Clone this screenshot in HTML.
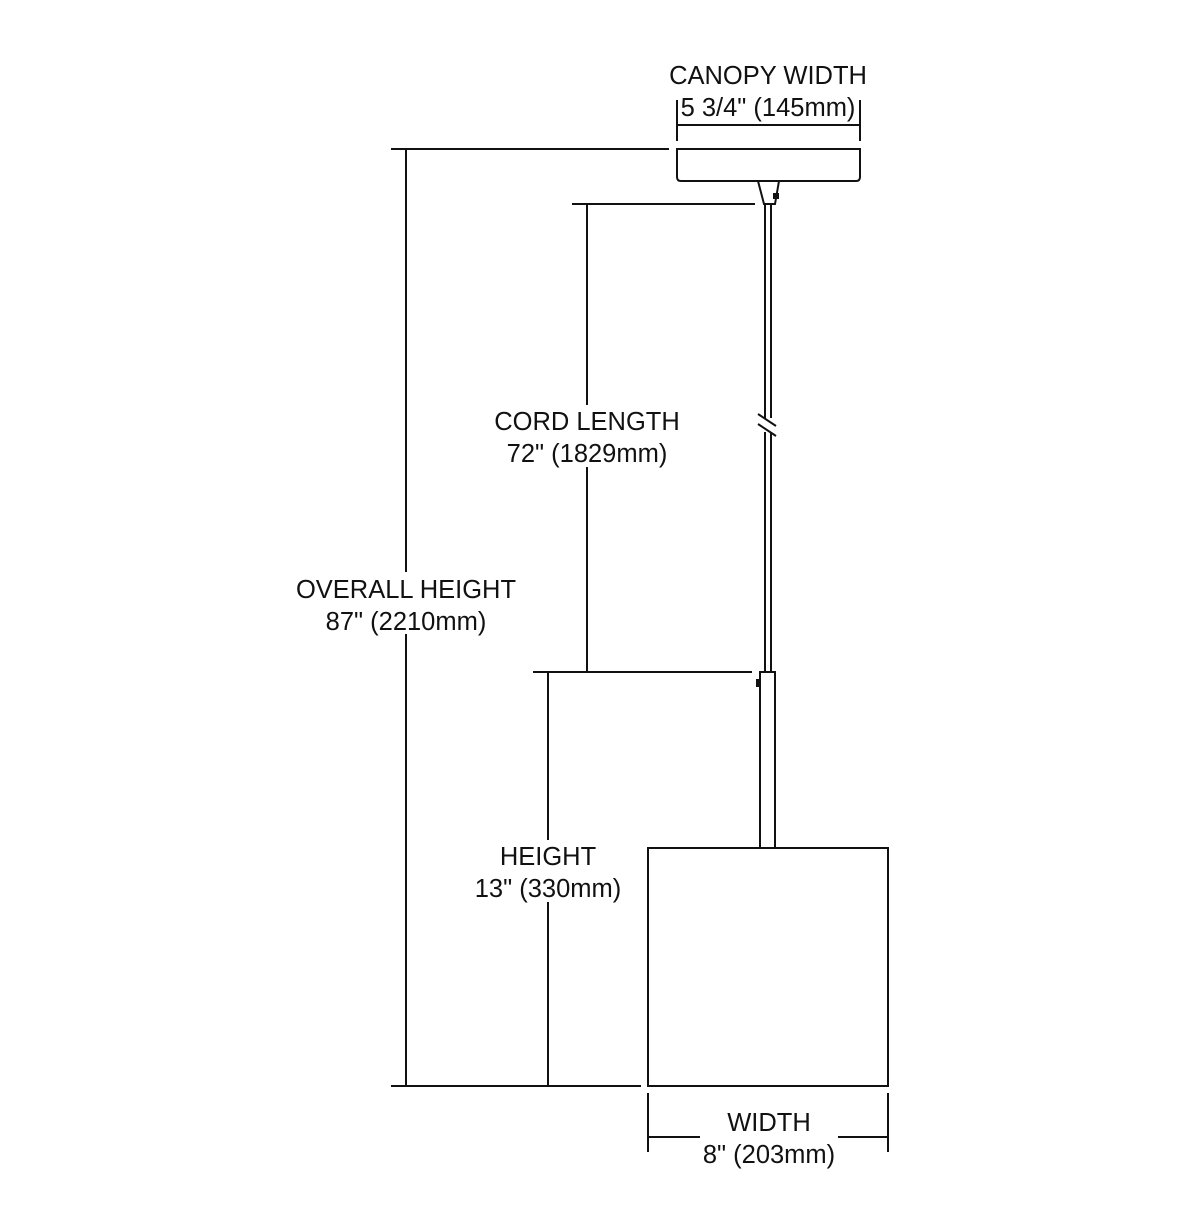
<!DOCTYPE html>
<html><head><style>html,body{margin:0;padding:0;background:#fff}</style></head>
<body>
<svg width="1200" height="1200" viewBox="0 0 1200 1200" xmlns="http://www.w3.org/2000/svg">
<g stroke="#111" stroke-width="2" fill="none">
<line x1="391" y1="149" x2="669" y2="149"/>
<line x1="406" y1="149" x2="406" y2="1086"/>
<line x1="391" y1="1086" x2="641" y2="1086"/>
<line x1="572" y1="204" x2="755" y2="204"/>
<line x1="587" y1="204" x2="587" y2="672"/>
<line x1="533" y1="672" x2="752" y2="672"/>
<line x1="548" y1="672" x2="548" y2="1086"/>
<line x1="677" y1="100" x2="677" y2="141"/>
<line x1="860" y1="100" x2="860" y2="141"/>
<line x1="677" y1="125" x2="860" y2="125"/>
<path d="M677 149 H860 V177 Q860 181 856 181 H681 Q677 181 677 177 Z"/>
<path d="M758 181 L764 204 H775 L779 181"/>
<line x1="765" y1="204" x2="765" y2="672"/>
<line x1="771" y1="204" x2="771" y2="672"/>
<rect x="760" y="672" width="15" height="176"/>
<rect x="648" y="848" width="240" height="238"/>
<line x1="648" y1="1093" x2="648" y2="1152"/>
<line x1="888" y1="1093" x2="888" y2="1152"/>
<line x1="648" y1="1137" x2="700" y2="1137"/>
<line x1="838" y1="1137" x2="888" y2="1137"/>
</g>
<rect x="773" y="193" width="6" height="6" fill="#111"/>
<rect x="756" y="679" width="4" height="8" fill="#111"/>
<rect x="758" y="418" width="20" height="14" fill="#fff"/>
<g stroke="#111" stroke-width="2">
<line x1="758" y1="414" x2="776" y2="426"/>
<line x1="758" y1="424" x2="776" y2="436"/>
</g>
<g fill="#fff">
<rect x="290" y="572" width="232" height="62"/>
<rect x="488" y="405" width="199" height="62"/>
<rect x="468" y="840" width="160" height="62"/>
</g>
<g font-family="Liberation Sans, sans-serif" font-size="25.5" fill="#111" text-anchor="middle">
<text x="768" y="84">CANOPY WIDTH</text>
<text x="768" y="116">5 3/4" (145mm)</text>
<text x="587" y="430">CORD LENGTH</text>
<text x="587" y="462">72" (1829mm)</text>
<text x="406" y="598">OVERALL HEIGHT</text>
<text x="406" y="630">87" (2210mm)</text>
<text x="548" y="865">HEIGHT</text>
<text x="548" y="897">13" (330mm)</text>
<text x="769" y="1131">WIDTH</text>
<text x="769" y="1163">8" (203mm)</text>
</g>
</svg>
</body></html>
